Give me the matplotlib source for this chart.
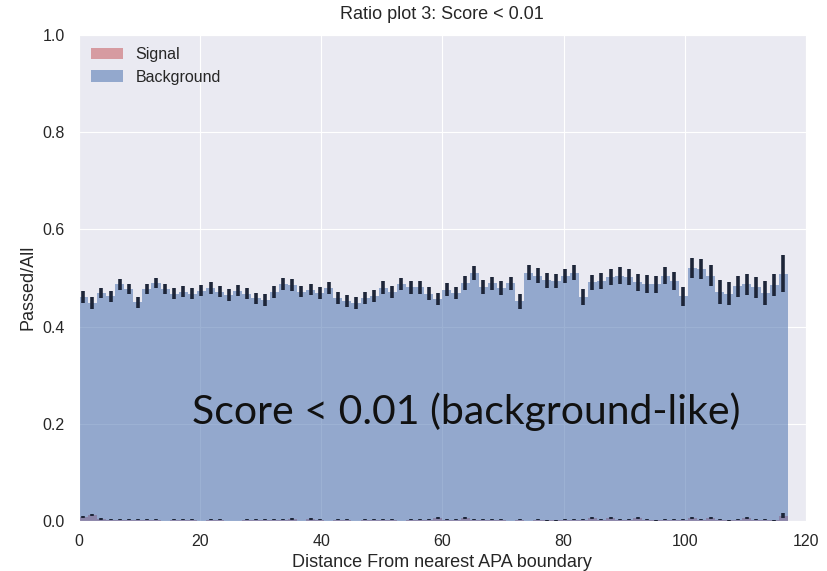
import numpy as np
import matplotlib
matplotlib.use("Agg")
import matplotlib.pyplot as plt
import seaborn as sns

# Histogram binning: distance from nearest APA boundary (cm), 1.5 cm bins
bin_edges = np.arange(0, 117.01, 1.5)

# Fraction of events passing the cut (Score < 0.01), per bin
background_ratio = [
    0.461, 0.449, 0.469, 0.462, 0.487, 0.477, 0.450, 0.477, 0.490, 0.477,
    0.468, 0.472, 0.468, 0.474, 0.479, 0.472, 0.465, 0.474, 0.468, 0.458,
    0.455, 0.471, 0.488, 0.486, 0.472, 0.476, 0.469, 0.479, 0.459, 0.452,
    0.449, 0.459, 0.463, 0.480, 0.471, 0.488, 0.481, 0.481, 0.468, 0.457,
    0.476, 0.469, 0.490, 0.510, 0.481, 0.489, 0.479, 0.489, 0.452, 0.511,
    0.505, 0.495, 0.494, 0.504, 0.511, 0.461, 0.491, 0.494, 0.502, 0.505,
    0.502, 0.491, 0.488, 0.487, 0.505, 0.494, 0.462, 0.520, 0.519, 0.505,
    0.471, 0.468, 0.483, 0.487, 0.481, 0.469, 0.485, 0.509,
]
background_err = [
    0.012, 0.012, 0.011, 0.011, 0.011, 0.011, 0.011, 0.011, 0.011, 0.011,
    0.011, 0.011, 0.011, 0.011, 0.012, 0.012, 0.012, 0.011, 0.011, 0.012,
    0.012, 0.012, 0.012, 0.012, 0.012, 0.012, 0.012, 0.012, 0.012, 0.012,
    0.012, 0.012, 0.012, 0.013, 0.013, 0.013, 0.013, 0.013, 0.013, 0.013,
    0.013, 0.013, 0.014, 0.014, 0.014, 0.014, 0.014, 0.014, 0.015, 0.015,
    0.015, 0.015, 0.015, 0.015, 0.016, 0.016, 0.016, 0.016, 0.017, 0.017,
    0.017, 0.018, 0.018, 0.018, 0.018, 0.019, 0.020, 0.021, 0.021, 0.021,
    0.025, 0.024, 0.022, 0.022, 0.022, 0.024, 0.023, 0.038,
]
signal_ratio = [
    0.008, 0.011, 0.004, 0.002, 0.002, 0.002, 0.002, 0.002, 0.002, 0.000,
    0.002, 0.002, 0.002, 0.000, 0.002, 0.002, 0.000, 0.000, 0.002, 0.002,
    0.002, 0.002, 0.002, 0.004, 0.000, 0.004, 0.002, 0.000, 0.002, 0.002,
    0.000, 0.002, 0.002, 0.002, 0.002, 0.000, 0.002, 0.002, 0.002, 0.005,
    0.002, 0.002, 0.005, 0.002, 0.002, 0.002, 0.002, 0.000, 0.002, 0.000,
    0.002, 0.001, 0.001, 0.002, 0.002, 0.002, 0.005, 0.002, 0.005, 0.002,
    0.002, 0.005, 0.002, 0.001, 0.002, 0.002, 0.002, 0.005, 0.002, 0.005,
    0.002, 0.001, 0.002, 0.005, 0.002, 0.002, 0.001, 0.010,
]
signal_err = [
    0.002, 0.002, 0.002, 0.001, 0.001, 0.001, 0.001, 0.001, 0.001, 0.000,
    0.001, 0.001, 0.001, 0.000, 0.001, 0.001, 0.000, 0.000, 0.001, 0.001,
    0.001, 0.001, 0.001, 0.002, 0.000, 0.002, 0.001, 0.000, 0.001, 0.001,
    0.000, 0.001, 0.001, 0.001, 0.001, 0.000, 0.001, 0.001, 0.001, 0.002,
    0.001, 0.001, 0.002, 0.001, 0.001, 0.001, 0.001, 0.000, 0.001, 0.000,
    0.001, 0.001, 0.001, 0.001, 0.001, 0.001, 0.002, 0.001, 0.002, 0.001,
    0.001, 0.002, 0.001, 0.001, 0.001, 0.001, 0.001, 0.002, 0.001, 0.002,
    0.001, 0.001, 0.001, 0.002, 0.001, 0.001, 0.001, 0.005,
]

title_text = "Ratio plot 3: Score < 0.01"
x_label = "Distance From nearest APA boundary"
y_label = "Passed/All"
note_text = "Score < 0.01 (background-like)"

sns.set_style("darkgrid")
plt.rcParams["font.family"] = ["Liberation Sans", "DejaVu Sans"]
plt.rcParams["text.color"] = "#262626"
plt.rcParams["xtick.color"] = "#262626"
plt.rcParams["ytick.color"] = "#262626"

fig = plt.figure(figsize=(8.28, 5.71), dpi=100)
ax = fig.add_axes([0.0951, 0.0883, 0.8783, 0.8497])

centers = 0.5 * (bin_edges[:-1] + bin_edges[1:])
sig_color = "#c44e52"
bkg_color = "#4c72b0"
err_color = "#1d2538"

ax.stairs(signal_ratio, bin_edges, fill=True, color=sig_color, alpha=0.5,
          linewidth=0, label="Signal", zorder=2)
ax.stairs(background_ratio, bin_edges, fill=True, color=bkg_color, alpha=0.55,
          linewidth=0, label="Background", zorder=2)

ax.errorbar(centers, background_ratio, yerr=background_err, fmt="none",
            ecolor=err_color, elinewidth=2.6, capsize=0, zorder=3)
ax.errorbar(centers, signal_ratio, yerr=signal_err, fmt="none",
            ecolor=err_color, elinewidth=2.6, capsize=0, zorder=3)

ax.set_xlim(0, 120)
ax.set_ylim(0, 1.0)
ax.set_xticks(np.arange(0, 121, 20))
ax.set_yticks(np.arange(0, 1.01, 0.2))
ax.tick_params(axis="both", labelsize=11.5, length=0, pad=10)

ax.set_title(title_text, fontsize=13, pad=12)
ax.set_xlabel(x_label, fontsize=13, labelpad=3)
ax.set_ylabel(y_label, fontsize=13)
ax.yaxis.set_label_coords(-0.058, 0.48)

ax.legend(loc="upper left", frameon=False, fontsize=11.5,
          handlelength=2.0, labelspacing=0.45, borderaxespad=0.35)

ax.text(18.7, 0.224, note_text, fontsize=29.5, family=["Lato", "DejaVu Sans"],
        color="#111111", va="center", ha="left", zorder=4)

fig.savefig("out.png", dpi=100)
